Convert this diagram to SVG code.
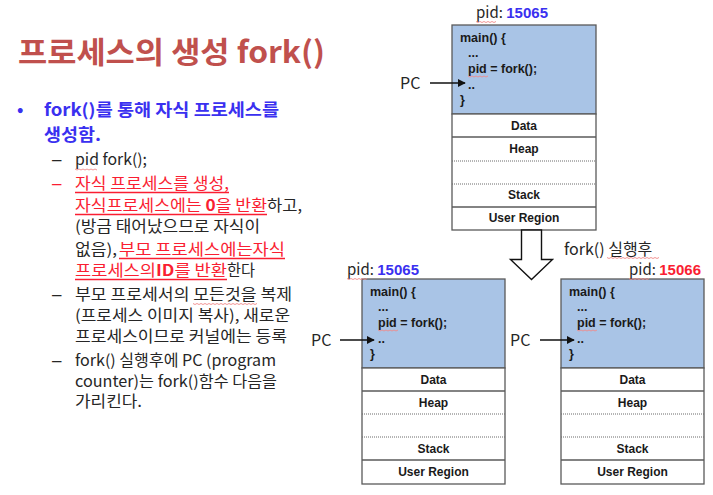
<svg xmlns="http://www.w3.org/2000/svg" width="713" height="495" viewBox="0 0 713 495">
  <style>
    .title { font-family: "Noto Sans CJK KR", "Noto Sans", sans-serif; font-weight: 700; font-size: 30px; fill: #c0504d; }
    .kr { font-family: "Noto Sans CJK KR", "Noto Sans", sans-serif; font-size: 15.5px; fill: #262626; }
    .dash { font-family: "Liberation Sans", Arial, sans-serif; font-size: 17px; fill: #262626; }
    .bul { font-family: "Noto Sans CJK KR", "Noto Sans", sans-serif; font-size: 17px; font-weight: 700; fill: #3a30f0; }
    .red { fill: #fa1e32; }
    .ul { stroke: #fa1e32; stroke-width: 1.3; }
    .code { font-family: "Liberation Sans", Arial, sans-serif; font-weight: 700; font-size: 12.5px; fill: #1a1a1a; }
    .lbl { font-family: "Liberation Sans", Arial, sans-serif; font-weight: 700; font-size: 12px; fill: #1a1a1a; text-anchor: middle; }
    .pid { font-family: "Noto Sans CJK KR", "Noto Sans", sans-serif; font-size: 15px; fill: #262626; }
    .pc { font-family: "Noto Sans CJK KR", "Noto Sans", sans-serif; font-size: 16px; fill: #262626; }
    .box { fill: #ffffff; stroke: #5a5a5a; stroke-width: 1.3; }
    .code-area { fill: #a9c4e6; stroke: #5a5a5a; stroke-width: 1.3; }
    .sep { stroke: #5a5a5a; stroke-width: 1.3; }
    .dot { stroke: #6a6a6a; stroke-width: 1; stroke-dasharray: 1 1; }
    .wire { stroke: #111; stroke-width: 1.4; fill: none; }
    .squig { stroke: #f08a8a; stroke-width: 0.9; fill: none; }
  </style>
  <defs>
    <marker id="head" viewBox="0 0 10 10" refX="9" refY="5" markerWidth="8" markerHeight="8" markerUnits="userSpaceOnUse" orient="auto">
      <path d="M0,0 L10,5 L0,10 Z" fill="#111"/>
    </marker>
  </defs>

  <rect width="713" height="495" fill="#ffffff"/>

  <!-- heading -->
  <text class="title" x="18" y="63" textLength="307" lengthAdjust="spacingAndGlyphs">프로세스의 생성 fork()</text>

  <!-- bullet text -->
  <g id="notes">
    <text class="bul" x="17" y="116">•</text>
    <text class="bul" x="44" y="116" textLength="235" lengthAdjust="spacingAndGlyphs">fork()를 통해 자식 프로세스를</text>
    <text class="bul" x="44" y="141" textLength="57" lengthAdjust="spacingAndGlyphs">생성함.</text>

    <text class="dash" x="52" y="165">–</text>
    <text class="kr" x="75" y="165" textLength="72" lengthAdjust="spacingAndGlyphs">pid fork();</text>
    <path class="squig" d="M75,169 l2,1 2,-1 2,1 2,-1 2,1 2,-1 2,1 2,-1 2,1 2,-1 2,1"/>

    <text class="dash red" x="52" y="189">–</text>
    <text class="kr red" x="75" y="189" textLength="154" lengthAdjust="spacingAndGlyphs">자식 프로세스를 생성,</text>
    <line class="ul" x1="75" y1="192.5" x2="229" y2="192.5"/>

    <text class="kr red" x="75" y="211" textLength="192" lengthAdjust="spacingAndGlyphs">자식프로세스에는 <tspan font-weight="700">0</tspan>을 반환</text>
    <line class="ul" x1="75" y1="214.5" x2="267" y2="214.5"/>
    <text class="kr" x="267" y="211" textLength="35" lengthAdjust="spacingAndGlyphs">하고,</text>

    <text class="kr" x="75" y="232" textLength="185" lengthAdjust="spacingAndGlyphs">(방금 태어났으므로 자식이</text>

    <text class="kr" x="75" y="255" textLength="42" lengthAdjust="spacingAndGlyphs">없음),</text>
    <text class="kr red" x="119" y="255" textLength="166" lengthAdjust="spacingAndGlyphs">부모 프로세스에는자식</text>
    <line class="ul" x1="119" y1="258.5" x2="285" y2="258.5"/>

    <text class="kr red" x="75" y="276" textLength="152" lengthAdjust="spacingAndGlyphs">프로세스의<tspan font-weight="700">ID</tspan>를 반환</text>
    <line class="ul" x1="75" y1="279.5" x2="227" y2="279.5"/>
    <text class="kr" x="227" y="276" textLength="28" lengthAdjust="spacingAndGlyphs">한다</text>

    <text class="dash" x="52" y="300">–</text>
    <text class="kr" x="75" y="300" textLength="217" lengthAdjust="spacingAndGlyphs">부모 프로세서의 모든것을 복제</text>
    <path class="squig" d="M193,303.5 l2,1 2,-1 2,1 2,-1 2,1 2,-1 2,1 2,-1 2,1 2,-1 2,1 2,-1 2,1 2,-1 2,1 2,-1 2,1 2,-1 2,1 2,-1 2,1 2,-1 2,1 2,-1 2,1 2,-1 2,1 2,-1 2,1 2,-1 2,1 2,-1"/>
    <text class="kr" x="75" y="321" textLength="215" lengthAdjust="spacingAndGlyphs">(프로세스 이미지 복사), 새로운</text>
    <text class="kr" x="75" y="342" textLength="212" lengthAdjust="spacingAndGlyphs">프로세스이므로 커널에는 등록</text>

    <text class="dash" x="52" y="366">–</text>
    <text class="kr" x="75" y="366" textLength="201" lengthAdjust="spacingAndGlyphs">fork() 실행후에 PC (program</text>
    <text class="kr" x="75" y="387" textLength="202" lengthAdjust="spacingAndGlyphs">counter)는 fork()함수 다음을</text>
    <text class="kr" x="75" y="407" textLength="67" lengthAdjust="spacingAndGlyphs">가리킨다.</text>
  </g>

  <!-- parent process before fork -->
  <g id="parent-before" transform="translate(452,25)">
    <rect class="code-area" x="0" y="0" width="144" height="89"/>
    <rect class="box" x="0" y="89" width="144" height="116"/>
    <line class="sep" x1="0" y1="112" x2="144" y2="112"/>
    <line class="dot" x1="0" y1="136" x2="144" y2="136"/>
    <line class="dot" x1="0" y1="159" x2="144" y2="159"/>
    <line class="sep" x1="0" y1="182" x2="144" y2="182"/>
    <text class="code" x="8" y="17">main() {</text>
    <text class="code" x="16" y="32">...</text>
    <text class="code" x="16" y="48">pid = fork();</text>
    <path class="squig" d="M16,51 l2,1 2,-1 2,1 2,-1 2,1 2,-1 2,1 2,-1 2,1 2,-1"/>
    <text class="code" x="16" y="64">..</text>
    <text class="code" x="8" y="79">}</text>
    <text class="lbl" x="72" y="105">Data</text>
    <text class="lbl" x="72" y="128">Heap</text>
    <text class="lbl" x="72" y="174">Stack</text>
    <text class="lbl" x="72" y="197">User Region</text>
  </g>

  <!-- parent process after fork -->
  <g id="parent-after" transform="translate(362,279)">
    <rect class="code-area" x="0" y="0" width="143" height="89"/>
    <rect class="box" x="0" y="89" width="143" height="116"/>
    <line class="sep" x1="0" y1="112" x2="143" y2="112"/>
    <line class="dot" x1="0" y1="135" x2="143" y2="135"/>
    <line class="dot" x1="0" y1="158" x2="143" y2="158"/>
    <line class="sep" x1="0" y1="181" x2="143" y2="181"/>
    <text class="code" x="8" y="17">main() {</text>
    <text class="code" x="16" y="32">...</text>
    <text class="code" x="16" y="48">pid = fork();</text>
    <path class="squig" d="M16,51 l2,1 2,-1 2,1 2,-1 2,1 2,-1 2,1 2,-1 2,1 2,-1"/>
    <text class="code" x="16" y="64">..</text>
    <text class="code" x="8" y="79">}</text>
    <text class="lbl" x="71.5" y="105">Data</text>
    <text class="lbl" x="71.5" y="128">Heap</text>
    <text class="lbl" x="71.5" y="174">Stack</text>
    <text class="lbl" x="71.5" y="197">User Region</text>
  </g>

  <!-- child process -->
  <g id="child" transform="translate(561,279)">
    <rect class="code-area" x="0" y="0" width="143" height="89"/>
    <rect class="box" x="0" y="89" width="143" height="116"/>
    <line class="sep" x1="0" y1="112" x2="143" y2="112"/>
    <line class="dot" x1="0" y1="135" x2="143" y2="135"/>
    <line class="dot" x1="0" y1="158" x2="143" y2="158"/>
    <line class="sep" x1="0" y1="181" x2="143" y2="181"/>
    <text class="code" x="8" y="17">main() {</text>
    <text class="code" x="16" y="32">...</text>
    <text class="code" x="16" y="48">pid = fork();</text>
    <path class="squig" d="M16,51 l2,1 2,-1 2,1 2,-1 2,1 2,-1 2,1 2,-1 2,1 2,-1"/>
    <text class="code" x="16" y="64">..</text>
    <text class="code" x="8" y="79">}</text>
    <text class="lbl" x="71.5" y="105">Data</text>
    <text class="lbl" x="71.5" y="128">Heap</text>
    <text class="lbl" x="71.5" y="174">Stack</text>
    <text class="lbl" x="71.5" y="197">User Region</text>
  </g>

  <!-- pid labels -->
  <g id="pid-labels">
    <text class="pid" x="476" y="18">pid: <tspan font-family="Liberation Sans, Arial, sans-serif" font-weight="700" fill="#3a30f0">15065</tspan></text>
    <path class="squig" d="M476,21.5 l2,1 2,-1 2,1 2,-1 2,1 2,-1 2,1 2,-1 2,1 2,-1"/>
    <text class="pid" x="347" y="275">pid: <tspan font-family="Liberation Sans, Arial, sans-serif" font-weight="700" fill="#3a30f0">15065</tspan></text>
    <path class="squig" d="M347,278.5 l2,1 2,-1 2,1 2,-1 2,1 2,-1 2,1 2,-1 2,1 2,-1"/>
    <text class="pid" x="629" y="275">pid: <tspan font-family="Liberation Sans, Arial, sans-serif" font-weight="700" fill="#fa1e32">15066</tspan></text>
    <path class="squig" d="M629,278.5 l2,1 2,-1 2,1 2,-1 2,1 2,-1 2,1 2,-1 2,1 2,-1"/>
  </g>

  <!-- connectors -->
  <g id="connectors">
    <text class="pc" x="400" y="89">PC</text>
    <line class="wire" x1="430" y1="83" x2="465" y2="83" marker-end="url(#head)"/>
    <text class="pc" x="311" y="346">PC</text>
    <line class="wire" x1="340" y1="340" x2="374" y2="340" marker-end="url(#head)"/>
    <text class="pc" x="510" y="346">PC</text>
    <line class="wire" x1="540" y1="340" x2="574" y2="340" marker-end="url(#head)"/>

    <!-- fork transition -->
    <path d="M521.5,230 L541.5,230 L541.5,259.5 L552.5,259.5 L531.5,279.5 L510.5,259.5 L521.5,259.5 Z" fill="#ffffff" stroke="#111" stroke-width="1.4"/>
    <text class="pc" x="564" y="255">fork() 실행후</text>
    <path class="squig" d="M607,257.5 l2,1 2,-1 2,1 2,-1 2,1 2,-1 2,1 2,-1 2,1 2,-1 2,1 2,-1 2,1 2,-1 2,1 2,-1 2,1 2,-1 2,1 2,-1 2,1 2,-1 2,1 2,-1 2,1 2,-1"/>
  </g>
</svg>
